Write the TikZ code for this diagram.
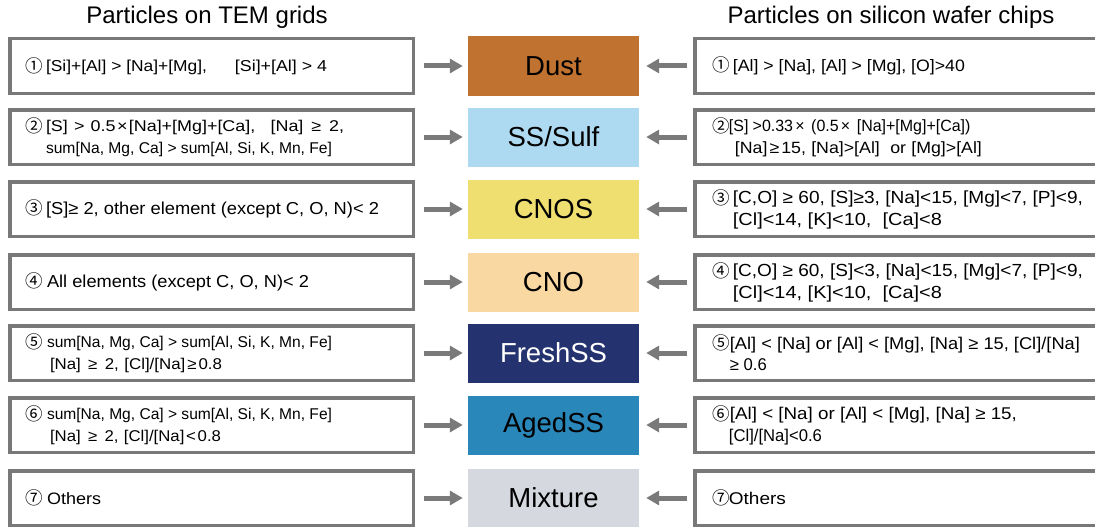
\documentclass[tikz,border=0pt]{standalone}
\usepackage{fontspec}
\setmainfont{Liberation Sans}
\newfontfamily\circfont{Noto Sans CJK SC}
\usetikzlibrary{arrows.meta}

\definecolor{framegray}{RGB}{120,120,120}
\definecolor{arrowgray}{RGB}{122,122,122}
\definecolor{dustc}{RGB}{192,114,48}
\definecolor{sulfc}{RGB}{173,218,240}
\definecolor{cnosc}{RGB}{239,223,112}
\definecolor{cnoc}{RGB}{249,216,161}
\definecolor{freshc}{RGB}{36,51,112}
\definecolor{agedc}{RGB}{42,135,186}
\definecolor{mixc}{RGB}{213,216,223}

% circled item number in a fixed-width slot
\newcommand{\cnum}[2]{\makebox[#1][l]{\raisebox{-0.5pt}{\circfont\fontsize{17.5}{21}\selectfont #2}}}
% one text line set to a given width: glyphs widened (never narrowed much),
% then the spaces take up the rest
\newlength\fitw
\newcommand{\fitline}[2]{{\spaceskip=0pt\xspaceskip=0pt
  \settowidth{\fitw}{#2}%
  \pgfmathsetmacro\fitW{max(#1,0.98*\fitw)}%
  \pgfmathsetmacro\fitf{min(1.15,\fitW/\fitw)}%
  \addfontfeature{FakeStretch=\fitf}%
  \makebox[\fitW pt][s]{#2}}}
% full-width operator and comma
\newcommand{\wop}[1]{\makebox[0.85em]{#1}}
\newcommand{\wcomma}{\makebox[0.9em][l]{,}}
\newcommand{\fsz}[1]{\fontsize{#1}{21.5}\selectfont}

\tikzset{
  critbox/.style={draw=framegray, line width=3.5pt, fill=white,
    minimum height=54.5pt, align=left, anchor=center},
  lbox/.style={critbox, text width=373pt, inner xsep=15.25pt},
  rbox/.style={critbox, text width=379pt, inner xsep=18pt},
  classbox/.style={minimum width=171pt, minimum height=59pt, inner sep=0pt,
    font=\fontsize{27.5}{32}\selectfont},
  headtext/.style={font=\fontsize{24}{28}\selectfont, inner sep=0pt},
  arr/.style={draw=arrowgray, line width=5pt,
    -{Triangle[length=13pt,width=14pt]}},
  larr/.style={arr, shorten <=9pt, shorten >=5pt},
  rarr/.style={arr, shorten <=6pt, shorten >=7pt}
}

\begin{document}
\begin{tikzpicture}[x=1pt, y=-1pt]
\useasboundingbox (0,0) rectangle (1095,527);
\clip (0,0) rectangle (1095,527);

% column headings
\node[headtext] (hl) at (207,17) {Particles on TEM grids};
\node[headtext] (hr) at (891,17) {Particles on silicon wafer chips};

% criteria for TEM grids
\node[lbox, font=\fsz{15.8}] (L1) at (211.5,66)
  {\cnum{21pt}{①}\fitline{161pt}{[Si]+[Al] > [Na]+[Mg],}\hspace{28pt}\fitline{92pt}{[Si]+[Al] > 4}};
\node[lbox, font=\fsz{15.6}] (L2) at (211.5,137)
  {\cnum{21pt}{②}\fitline{298pt}{[S] > 0.5\wop{×}[Na]+[Mg]+[Ca]\wcomma{} [Na] \wop{≥} 2,}\\
   \hspace*{21pt}\fitline{286pt}{sum[Na, Mg, Ca] > sum[Al, Si, K, Mn, Fe]}};
\node[lbox, font=\fsz{17.3}] (L3) at (211.5,209)
  {\cnum{21pt}{③}\fitline{333pt}{[S]≥ 2, other element (except C, O, N)< 2}};
\node[lbox, font=\fsz{17.3}] (L4) at (211.5,282)
  {\cnum{22pt}{④}\fitline{262pt}{All elements (except C, O, N)< 2}};
\node[lbox, font=\fsz{15.6}] (L5) at (211.5,353)
  {\cnum{22pt}{⑤}\fitline{285pt}{sum[Na, Mg, Ca] > sum[Al, Si, K, Mn, Fe]}\\
   \hspace*{25pt}\fitline{172pt}{[Na] \wop{≥} 2, [Cl]/[Na]\wop{≥}0.8}};
\node[lbox, font=\fsz{15.6}] (L6) at (211.5,425)
  {\cnum{22pt}{⑥}\fitline{285pt}{sum[Na, Mg, Ca] > sum[Al, Si, K, Mn, Fe]}\\
   \hspace*{25pt}\fitline{171pt}{[Na] \wop{≥} 2, [Cl]/[Na]\wop{<}0.8}};
\node[lbox, font=\fsz{16.5}] (L7) at (211.5,498)
  {\cnum{22pt}{⑦}\fitline{54pt}{Others}};

% particle classes
\node[classbox, fill=dustc]  (C1) at (553.5,66)  {Dust};
\node[classbox, fill=sulfc]  (C2) at (553.5,137) {SS/Sulf};
\node[classbox, fill=cnosc]  (C3) at (553.5,209) {CNOS};
\node[classbox, fill=cnoc]   (C4) at (553.5,282) {CNO};
\node[classbox, fill=freshc, text=white] (C5) at (553.5,353) {FreshSS};
\node[classbox, fill=agedc]  (C6) at (553.5,425) {AgedSS};
\node[classbox, fill=mixc]   (C7) at (553.5,498) {Mixture};

% criteria for silicon wafer chips
\node[rbox, font=\fsz{16.5}] (R1) at (902.4,66)
  {\cnum{20pt}{①}\fitline{232pt}{[Al] > [Na], [Al] > [Mg], [O]>40}};
\node[rbox, font=\fsz{16.3}] (R2) at (902.4,137)
  {\cnum{16pt}{②}\fitline{239pt}{[S] >0.33\wop{×} (0.5\wop{×} [Na]+[Mg]+[Ca])}\\
   \hspace*{22pt}\fitline{247pt}{[Na]\wop{≥}15, [Na]>[Al]\ \ or [Mg]>[Al]}};
\node[rbox, font=\fsz{17.5}] (R3) at (902.4,209)
  {\cnum{20pt}{③}\fitline{350pt}{[C,O] ≥ 60, [S]≥3, [Na]<15, [Mg]<7, [P]<9,}\\
   \hspace*{20pt}\fitline{209pt}{[Cl]<14, [K]<10,\ \ [Ca]<8}};
\node[rbox, font=\fsz{17.5}] (R4) at (902.4,282)
  {\cnum{20pt}{④}\fitline{350pt}{[C,O] ≥ 60, [S]<3, [Na]<15, [Mg]<7, [P]<9,}\\
   \hspace*{20pt}\fitline{209pt}{[Cl]<14, [K]<10,\ \ [Ca]<8}};
\node[rbox, font=\fsz{17}] (R5) at (902.4,353)
  {\cnum{17pt}{⑤}\fitline{350pt}{[Al] < [Na] or [Al] < [Mg], [Na] ≥ 15, [Cl]/[Na]}\\
   \hspace*{17pt}\fitline{33pt}{≥ 0.6}};
\node[rbox, font=\fsz{17}] (R6) at (902.4,425)
  {\cnum{17pt}{⑥}\fitline{287pt}{[Al] < [Na] or [Al] < [Mg], [Na] ≥ 15,}\\
   \hspace*{16pt}\fitline{83pt}{[Cl]/[Na]<0.6}};
\node[rbox, font=\fsz{17}] (R7) at (902.4,498)
  {\cnum{16pt}{⑦}\fitline{57pt}{Others}};

% connectors
\foreach \i in {1,...,7}{
  \draw[larr] (L\i) -- (C\i);
  \draw[rarr] (R\i) -- (C\i);
}
\end{tikzpicture}
\end{document}
